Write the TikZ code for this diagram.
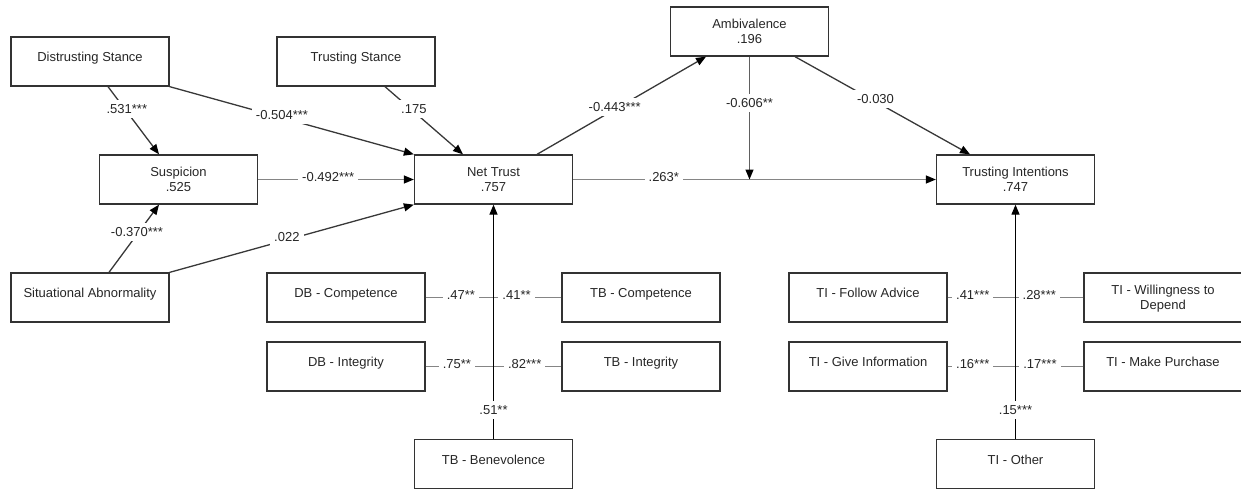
\documentclass[tikz,border=0pt]{standalone}
\usepackage{fontspec}
\setmainfont{Liberation Sans}
\usetikzlibrary{arrows.meta,calc}

\definecolor{boxline}{HTML}{333333}
\definecolor{darkline}{HTML}{383838}
\definecolor{greyline}{HTML}{858585}
\definecolor{midline}{HTML}{606060}
\definecolor{textcol}{HTML}{262626}

\tikzset{
  box/.style={draw=boxline, line width=1.3pt, minimum width=158pt,
              minimum height=49pt, inner sep=0pt},
  txt/.style={anchor=base, inner sep=0pt, text=textcol,
              font=\fontsize{13}{15}\selectfont},
  lbl/.style={fill=white, inner xsep=4pt, inner ysep=4.5pt, text=textcol,
              font=\fontsize{13}{15}\selectfont, yshift=2.5pt},
  tip/.style={-{Triangle[length=10pt,width=8pt,color=black]}},
  arr/.style={tip, draw=darkline, line width=1.3pt},
  harr/.style={tip, draw=greyline, line width=1.3pt},
  varr/.style={tip, draw=midline, line width=1.3pt},
  karr/.style={tip, draw=black, line width=1.3pt},
  ind/.style={draw=greyline, line width=1.3pt},
}

\begin{document}
\begin{tikzpicture}[x=1pt,y=-1pt]
\useasboundingbox (0,0) rectangle (1241,490);

% ---- constructs ----
\node[box] (ds)  at (90,61.5)    {};
\node[box] (ts)  at (356,61.5)   {};
\node[box] (sus) at (178.5,179.5) {};
\node[box] (nt)  at (493.5,179.5) {};
\node[box] (amb) at (749.5,31.5) {};
\node[box] (ti)  at (1015.5,179.5) {};
\node[box] (sa)  at (90,297.5)   {};

% ---- indicators ----
\node[box] (dbc) at (346,297.5)  {};
\node[box] (dbi) at (346,366.5)  {};
\node[box] (tbc) at (641,297.5)  {};
\node[box] (tbi) at (641,366.5)  {};
\node[box] (tbb) at (493.5,464.2)  {};
\node[box] (tif) at (868,297.5)  {};
\node[box] (tig) at (868,366.5)  {};
\node[box] (tiw) at (1163,297.5) {};
\node[box] (tim) at (1163,366.5) {};
\node[box] (tio) at (1015.5,464.2) {};

% ---- box texts ----
\node[txt] (ds-t)  at (ds.center)  {Distrusting Stance};
\node[txt] (ts-t)  at (ts.center)  {Trusting Stance};
\node[txt] (sus-t) at ([yshift=3.5pt]sus.center)  {Suspicion};
\node[txt] (sus-v) at ([yshift=-11.5pt]sus.center) {.525};
\node[txt] (nt-t)  at ([yshift=3.5pt]nt.center)   {Net Trust};
\node[txt] (nt-v)  at ([yshift=-11.5pt]nt.center)  {.757};
\node[txt] (amb-t) at ([yshift=3.5pt]amb.center)  {Ambivalence};
\node[txt] (amb-v) at ([yshift=-11.5pt]amb.center) {.196};
\node[txt] (ti-t)  at ([yshift=3.5pt]ti.center)   {Trusting Intentions};
\node[txt] (ti-v)  at ([yshift=-11.5pt]ti.center)  {.747};
\node[txt] (sa-t)  at (sa.center)  {Situational Abnormality};
\node[txt] (dbc-t) at (dbc.center) {DB - Competence};
\node[txt] (dbi-t) at (dbi.center) {DB - Integrity};
\node[txt] (tbc-t) at (tbc.center) {TB - Competence};
\node[txt] (tbi-t) at (tbi.center) {TB - Integrity};
\node[txt] (tbb-t) at (tbb.center) {TB - Benevolence};
\node[txt] (tif-t) at (tif.center) {TI - Follow Advice};
\node[txt] (tig-t) at (tig.center) {TI - Give Information};
\node[txt] (tiw-t) at ([yshift=3.5pt]tiw.center)  {TI - Willingness to};
\node[txt] (tiw-u) at ([yshift=-11.5pt]tiw.center) {Depend};
\node[txt] (tim-t) at (tim.center) {TI - Make Purchase};
\node[txt] (tio-t) at (tio.center) {TI - Other};

% ---- structural paths ----
\draw[arr] ([xshift=18pt]ds.south) -- ([xshift=-19.5pt]sus.north)
  node[lbl,pos=0.37] {.531***};
\draw[arr] (ds.south east) -- (nt.north west)
  node[lbl,pos=0.46] {-0.504***};
\draw[arr] ([xshift=29pt]ts.south) -- ([xshift=-30.5pt]nt.north)
  node[lbl,pos=0.37] {.175};
\draw[harr] (sus.east) -- (nt.west)
  node[lbl,pos=0.45] {-0.492***};
\draw[arr] ([xshift=19pt]sa.north) -- ([xshift=-19.5pt]sus.south)
  node[lbl,pos=0.56] {-0.370***};
\draw[arr] (sa.north east) -- (nt.south west)
  node[lbl,pos=0.48] {.022};
\draw[arr] ([xshift=43.5pt]nt.north) -- ([xshift=-43.5pt]amb.south)
  node[lbl,pos=0.46] {-0.443***};
\draw[arr] ([xshift=45.5pt]amb.south) -- ([xshift=-45.5pt]ti.north)
  node[lbl,pos=0.46] {-0.030};
\draw[harr] (nt.east) -- (ti.west)
  node[lbl,pos=0.25] {.263*};

% moderation of the Net Trust -> Trusting Intentions path
\coordinate (mod) at (amb.south |- nt.east);
\draw[varr] (amb.south) -- (mod)
  node[lbl,pos=0.40] {-0.606**};

% ---- indicator loadings: Net Trust ----
\draw[ind] (dbc.east) -- (dbc.east -| nt.south) node[lbl,pos=0.52] {.47**};
\draw[ind] (tbc.west) -- (tbc.west -| nt.south) node[lbl,pos=0.66] {.41**};
\draw[ind] (dbi.east) -- (dbi.east -| nt.south) node[lbl,pos=0.46] {.75**};
\draw[ind] (tbi.west) -- (tbi.west -| nt.south) node[lbl,pos=0.54] {.82***};
\draw[karr] (tbb.north) -- (nt.south) node[lbl,pos=0.115] {.51**};

% ---- indicator loadings: Trusting Intentions ----
\draw[ind] (tif.east) -- (tif.east -| ti.south) node[lbl,pos=0.37] {.41***};
\draw[ind] (tiw.west) -- (tiw.west -| ti.south) node[lbl,pos=0.65] {.28***};
\draw[ind] (tig.east) -- (tig.east -| ti.south) node[lbl,pos=0.37] {.16***};
\draw[ind] (tim.west) -- (tim.west -| ti.south) node[lbl,pos=0.64] {.17***};
\draw[karr] (tio.north) -- (ti.south) node[lbl,pos=0.115] {.15***};
\end{tikzpicture}
\end{document}
